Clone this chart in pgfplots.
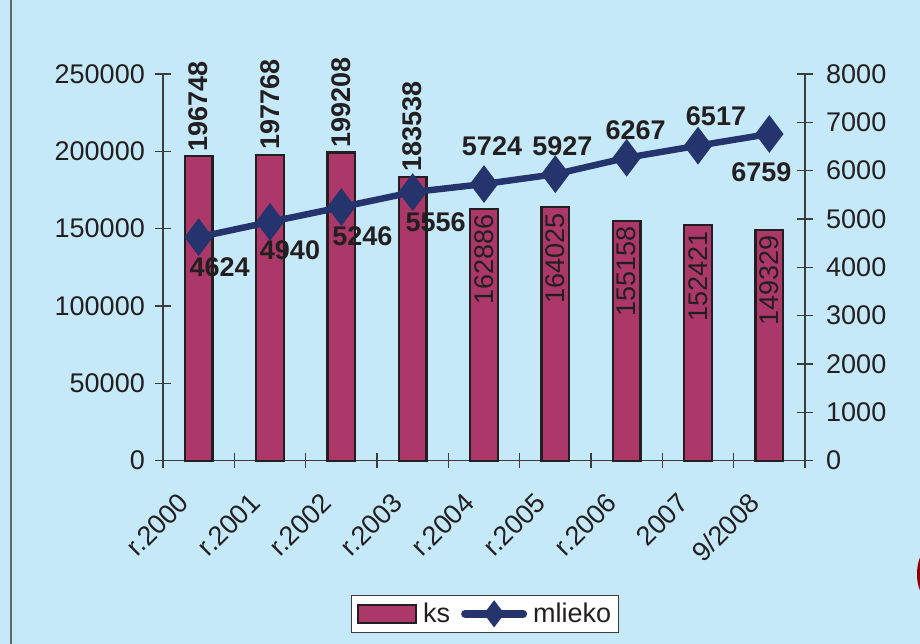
\documentclass[border=0pt]{standalone}
\usepackage{fontspec}
\setmainfont{Liberation Sans}
\usepackage{pgfplots}
\pgfplotsset{compat=1.18}
\usepackage{pgfplotstable}

\definecolor{bgc}{RGB}{197,233,248}
\definecolor{barc}{RGB}{172,56,106}
\definecolor{navy}{RGB}{38,52,110}
\definecolor{txt}{RGB}{35,31,32}
\definecolor{axc}{RGB}{60,60,60}

\pgfplotsset{milklegend/.style={legend image code/.code={\draw[##1, line width=8pt, line cap=round, mark repeat=2, mark phase=2, mark size=7pt] plot coordinates {(2pt,0pt) (31pt,0pt) (60pt,0pt)};}}}

\pgfplotstableread{
x y dx dy lab
0 4624 21 -30 4624
1 4940 20 -28 4940
2 5246 21 -29 5246
3 5556 23 -30 5556
4 5724 8 38 5724
5 5927 7 28 5927
6 6267 9 28 6267
7 6517 18 29 6517
8 6759 -8 -38 6759
}\milk

\newcommand\fs{\fontsize{27}{32}\selectfont}

\begin{document}
\begin{tikzpicture}
\path[use as bounding box] (0pt,0pt) rectangle (920pt,644pt);
\fill[bgc] (0pt,0pt) rectangle (920pt,644pt);
\draw[line width=2pt, black!60] (11pt,0pt) -- (11pt,644pt);
\begin{scope}
\clip (0pt,0pt) rectangle (920pt,644pt);
\fill[red!55!black] (926pt,70pt) ellipse (9pt and 22pt);
\end{scope}

\begin{axis}[
 at={(163pt,183.3pt)}, anchor=south west,
 scale only axis, width=642pt, height=386.7pt,
 xmin=-0.5, xmax=8.5, ymin=0, ymax=250000,
 axis x line=bottom, axis y line=left,
 axis line style={-, axc, line width=1.3pt},
 xtick={0,...,8},
 xticklabels={r.2000,r.2001,r.2002,r.2003,r.2004,r.2005,r.2006,2007,9/2008},
 minor xtick={-0.5,0.5,...,8.5},
 major x tick style={draw=none},
 minor x tick style={axc, line width=1.3pt},
 minor tick length=15pt,
 ytick={0,50000,...,250000},
 major tick length=16pt,
 tick align=center,
 y tick style={axc, line width=1.3pt},
 scaled y ticks=false,
 /pgf/number format/assume math mode=true,
 yticklabel style={/pgf/number format/fixed, /pgf/number format/1000 sep={}, anchor=east, inner sep=0pt, xshift=-10pt},
 xticklabel style={xshift=-14.5pt, yshift=-29.5pt, rotate=45, anchor=east, inner sep=0pt},
 tick label style={font=\fs, text=txt},
 clip=false,
]
\addplot[ybar, bar width=27.5pt, bar shift=0pt, fill=barc, draw=txt, line width=2.2pt,
  point meta=explicit symbolic, nodes near coords,
  nodes near coords style={rotate=90, anchor=west, font=\fs\bfseries, text=txt, inner sep=4pt}]
  coordinates {(0,196748)[196748] (1,197768)[197768] (2,199208)[199208] (3,183538)[183538]};
\addplot[ybar, bar width=27.5pt, bar shift=0pt, fill=barc, draw=txt, line width=2.2pt,
  point meta=explicit symbolic, nodes near coords,
  nodes near coords style={rotate=90, anchor=east, font=\fs, text=txt, inner sep=5pt}]
  coordinates {(4,162886)[162886] (5,164025)[164025] (6,155158)[155158] (7,152421)[152421] (8,149329)[149329]};
\end{axis}

\begin{axis}[
 at={(163pt,183.3pt)}, anchor=south west,
 scale only axis, width=642pt, height=386.7pt,
 xmin=-0.5, xmax=8.5, ymin=0, ymax=8000,
 axis x line=none, axis y line=right,
 axis line style={-, axc, line width=1.3pt},
 ytick={0,1000,...,8000},
 major tick length=16pt, tick align=center,
 y tick style={axc, line width=1.3pt},
 /pgf/number format/assume math mode=true,
 yticklabel style={/pgf/number format/fixed, /pgf/number format/1000 sep={}, anchor=west, inner sep=0pt, xshift=13pt, font=\fs, text=txt},
 clip=false,
 legend style={at={(rel axis cs:0.5016,-0.396)}, anchor=center, draw=axc, line width=1pt, fill=white,
   font=\fs, text=txt, legend columns=2, inner xsep=5pt, inner ysep=6pt,
   /tikz/every odd column/.append style={column sep=4pt},
   /tikz/every even column/.append style={column sep=9pt}},
]
\addlegendimage{legend image code/.code={\draw[fill=barc, draw=txt, line width=2.2pt] (0pt,-9pt) rectangle (58pt,9pt);}}
\addlegendentry{ks}
\addplot[navy, line width=6.5pt, mark=diamond*, mark size=13.5pt, mark options={solid},
  point meta=explicit symbolic,
  visualization depends on={\thisrow{dx}\as\dx},
  visualization depends on={\thisrow{dy}\as\dy},
  nodes near coords,
  nodes near coords style={anchor=center, xshift=\dx, yshift=\dy, font=\fs\bfseries, text=txt},
  milklegend]
  table[x=x, y=y, meta=lab] {\milk};
\addlegendentry{mlieko}
\end{axis}
\end{tikzpicture}
\end{document}
